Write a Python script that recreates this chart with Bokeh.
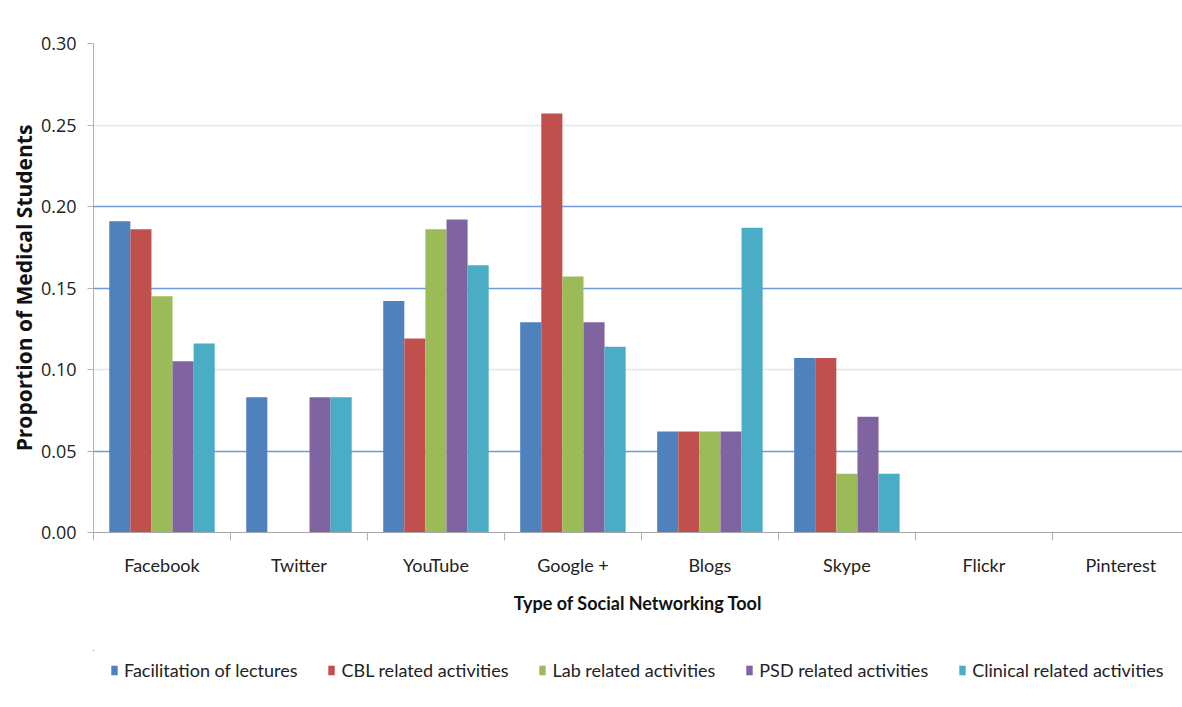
from bokeh.plotting import figure
from bokeh.layouts import column
from bokeh.models import (Range1d, LinearAxis, FixedTicker, Grid, Legend, LegendItem,
                          NumeralTickFormatter, ColumnDataSource)
from bokeh.embed import file_html
from bokeh.resources import INLINE

tools = ["Facebook", "Twitter", "YouTube", "Google +", "Blogs", "Skype", "Flickr", "Pinterest"]
series_names = ["Facilitation of lectures", "CBL related activities", "Lab related activities",
                "PSD related activities", "Clinical related activities"]
lectures = [0.191, 0.083, 0.142, 0.129, 0.062, 0.107, 0.0, 0.0]
cbl = [0.186, 0.0, 0.119, 0.257, 0.062, 0.107, 0.0, 0.0]
lab = [0.145, 0.0, 0.186, 0.157, 0.062, 0.036, 0.0, 0.0]
psd = [0.105, 0.083, 0.192, 0.129, 0.062, 0.071, 0.0, 0.0]
clinical = [0.116, 0.083, 0.164, 0.114, 0.187, 0.036, 0.0, 0.0]
y_ticks = [0.0, 0.05, 0.10, 0.15, 0.20, 0.25, 0.30]

colors = ["#4f81bd", "#c0504d", "#9bbb59", "#8064a2", "#4bacc6"]
FONT = "Lato"
YFONT = "Open Sans"

series = [lectures, cbl, lab, psd, clinical]
n = len(tools)
centers = [i + 0.5 for i in range(n)]

p = figure(width=1182, height=650, x_range=Range1d(0, 7.95), y_range=Range1d(0, 0.30),
           x_axis_location=None, output_backend="svg", toolbar_location=None,
           min_border_left=93, min_border_right=0, min_border_top=43, min_border_bottom=118)
p.outline_line_color = None
p.background_fill_color = "white"
p.border_fill_color = "white"
p.xgrid.grid_line_color = None
p.ygrid.grid_line_color = None

# gridlines
p.add_layout(Grid(dimension=1, ticker=FixedTicker(ticks=[0.05, 0.15, 0.20, 0.30]),
                  grid_line_color="#6f9ad6", grid_line_width=1.3))
p.add_layout(Grid(dimension=1, ticker=FixedTicker(ticks=[0.10, 0.25]),
                  grid_line_color="#dde7f4", grid_line_width=1.3))

bw = 0.154
sources = []
for j, (vals, c) in enumerate(zip(series, colors)):
    off = (j - 2) * bw
    src = ColumnDataSource(dict(x=[cx + off for cx in centers], top=vals))
    sources.append(src)
    p.vbar(x="x", top="top", width=bw, source=src, fill_color=c, line_color=None)

# y axis
ya = p.yaxis[0]
ya.ticker = FixedTicker(ticks=y_ticks)
ya.formatter = NumeralTickFormatter(format="0.00")
ya.axis_line_color = "#b0b0b0"
ya.major_tick_line_color = "#b0b0b0"
ya.major_tick_out = 6
ya.major_tick_in = 0
ya.minor_tick_line_color = None
ya.major_label_text_font = YFONT
ya.major_label_text_font_size = "18px"
ya.major_label_text_color = "#222222"
ya.major_label_standoff = 11
ya.axis_label = "Proportion of Medical Students"
ya.axis_label_text_font = YFONT
ya.axis_label_text_font_style = "bold"
ya.axis_label_text_font_size = "21px"
ya.axis_label_text_color = "#111111"
ya.axis_label_standoff = 0

# category boundary ticks
ta = LinearAxis(ticker=FixedTicker(ticks=list(range(n + 1))),
                axis_line_color="#a6a6a6", major_tick_line_color="#b0b0b0",
                major_tick_out=8, major_tick_in=0, minor_tick_line_color=None,
                major_label_overrides={i: "" for i in range(n + 1)},
                major_label_text_font_size="1px", major_label_standoff=0)
p.add_layout(ta, "below")

# category labels
ca = LinearAxis(ticker=FixedTicker(ticks=centers),
                major_label_overrides={c: t for c, t in zip(centers, tools)},
                axis_line_color=None, major_tick_line_color=None, minor_tick_line_color=None,
                major_label_text_font=FONT, major_label_text_font_size="18px",
                major_label_text_color="#222222", major_label_standoff=7,
                axis_label="Type of Social Networking Tool", axis_label_text_font=FONT,
                axis_label_text_font_style="bold", axis_label_text_font_size="18px",
                axis_label_text_color="#111111", axis_label_standoff=13)
p.add_layout(ca, "below")

# legend strip (separate figure so the legend is not clipped); its bars lie far outside the view
lg = figure(width=1182, height=40, x_range=Range1d(100, 108), y_range=Range1d(-20, -10),
            output_backend="svg", toolbar_location=None, min_border=0,
            x_axis_location=None, y_axis_location=None)
lg.outline_line_color = None
lg.xgrid.grid_line_color = None
lg.ygrid.grid_line_color = None
items = []
for name, c, src in zip(series_names, colors, sources):
    r = lg.vbar(x="x", top="top", width=bw, source=src, fill_color=c, line_color=None)
    items.append(LegendItem(label=name, renderers=[r]))
legend = Legend(items=items, orientation="horizontal", location=(17, 9),
                glyph_width=8, glyph_height=12, label_standoff=6, spacing=30,
                label_text_font=FONT, label_text_font_size="18px", label_text_color="#222222",
                border_line_color=None, background_fill_alpha=0, padding=0, margin=0)
lg.add_layout(legend, "center")

layout = column(p, lg, spacing=0)
open("out.html", "w").write(file_html(layout, INLINE))
